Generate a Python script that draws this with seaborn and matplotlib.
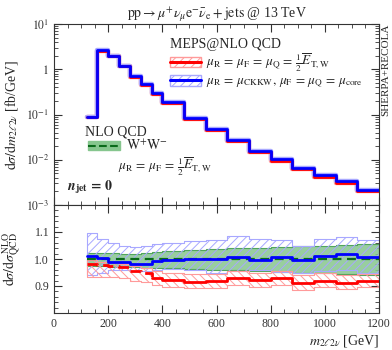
import numpy as np
import pandas as pd
import matplotlib
matplotlib.use("Agg")
import matplotlib.pyplot as plt
import seaborn as sns
from matplotlib.lines import Line2D
from matplotlib.patches import Patch
from matplotlib.ticker import MultipleLocator, FixedLocator, LogLocator, NullFormatter

# ---------------- data ----------------
bin_edges = [120, 160, 200, 240, 280, 320, 360, 400, 480, 560, 640, 720, 800, 880, 960, 1040, 1120, 1200]

# top panel: dsigma/dm [fb/GeV]
meps_blue = [0.088, 2.6, 2.0, 1.19, 0.71, 0.47, 0.30, 0.19, 0.085, 0.049, 0.028, 0.0160, 0.0103, 0.0067, 0.0046, 0.0034, 0.0022]
meps_red = [0.086, 2.55, 1.95, 1.16, 0.69, 0.455, 0.285, 0.176, 0.079, 0.045, 0.026, 0.0147, 0.0095, 0.0061, 0.0042, 0.0031, 0.0020]

# ratio panel (to NLO QCD)
ratio_blue = [1.012, 1.005, 0.990, 0.990, 0.981, 0.981, 0.993, 0.995, 1.000, 1.000, 1.006, 0.997, 1.007, 0.995, 1.012, 1.020, 1.008]
ratio_blue_hi = [1.095, 1.075, 1.060, 1.050, 1.045, 1.050, 1.055, 1.060, 1.065, 1.070, 1.085, 1.075, 1.070, 1.050, 1.075, 1.080, 1.070]
ratio_blue_lo = [0.940, 0.950, 0.958, 0.960, 0.955, 0.955, 0.960, 0.962, 0.960, 0.950, 0.955, 0.958, 0.952, 0.950, 0.955, 0.958, 0.950]
ratio_red = [0.981, 0.979, 0.975, 0.972, 0.954, 0.948, 0.930, 0.922, 0.916, 0.918, 0.929, 0.922, 0.929, 0.910, 0.920, 0.910, 0.919]
ratio_red_hi = [0.995, 0.990, 0.985, 0.982, 0.975, 0.968, 0.955, 0.948, 0.944, 0.946, 0.955, 0.950, 0.956, 0.940, 0.948, 0.940, 0.946]
ratio_red_lo = [0.935, 0.935, 0.932, 0.930, 0.920, 0.915, 0.905, 0.898, 0.894, 0.893, 0.903, 0.897, 0.905, 0.887, 0.895, 0.888, 0.895]
ratio_nlo = [1.0] * 17
ratio_nlo_hi = [1.022, 1.022, 1.022, 1.020, 1.020, 1.022, 1.025, 1.028, 1.032, 1.036, 1.040, 1.042, 1.045, 1.048, 1.050, 1.053, 1.055]
ratio_nlo_lo = [0.975, 0.975, 0.972, 0.970, 0.970, 0.968, 0.968, 0.965, 0.962, 0.960, 0.958, 0.955, 0.952, 0.950, 0.947, 0.945, 0.942]

x_ticks = [0, 200, 400, 600, 800, 1000, 1200]

# ---------------- style ----------------
sns.set_style("ticks")
plt.rcParams["font.family"] = ["Liberation Serif", "DejaVu Serif"]
plt.rcParams["mathtext.fontset"] = "stix"
plt.rcParams["hatch.linewidth"] = 0.7
plt.rcParams["axes.linewidth"] = 0.8

BLUE = "#0000ff"
RED = "#ff0000"
LBLUE = "#a8a8ff"
LRED = "#ff9a9a"
GREEN_FILL = "#86c68e"
GREEN_LINE = "#0a6a1a"

fig = plt.figure(figsize=(3.92, 3.5), dpi=100)
ax_top = fig.add_axes([54 / 392, 1 - 205 / 350, 325 / 392, 181 / 350])
ax_bot = fig.add_axes([54 / 392, 1 - 313 / 350, 325 / 392, 108 / 350], sharex=ax_top)


def step_df(vals):
    return pd.DataFrame({"x": bin_edges, "y": list(vals) + [vals[-1]]})


def step_line(ax, vals, color, lw=2.0, ls="-", edges=None):
    df = step_df(vals)
    if edges is not None:
        df = df.iloc[edges[0]:edges[1]]
    sns.lineplot(data=df, x="x", y="y", ax=ax, color=color, lw=lw, ls=ls,
                 drawstyle="steps-post", estimator=None, sort=False, legend=False)


def band(ax, lo, hi, face, edge, hatch=None, alpha=1.0):
    lo2 = list(lo) + [lo[-1]]
    hi2 = list(hi) + [hi[-1]]
    if hatch:
        ax.fill_between(bin_edges, lo2, hi2, step="post", facecolor="none",
                        edgecolor=edge, hatch=hatch, lw=0.8)
    else:
        ax.fill_between(bin_edges, lo2, hi2, step="post", facecolor=face,
                        edgecolor=edge, lw=0.8, alpha=alpha)


# ---------------- top panel ----------------
step_line(ax_top, meps_red, LRED, lw=3.2)
step_line(ax_top, meps_blue, LBLUE, lw=3.2)
step_line(ax_top, meps_red, RED, lw=2.0)
step_line(ax_top, meps_blue, BLUE, lw=2.0)
ax_top.set_yscale("log")
ax_top.set_ylim(1e-3, 10)
ax_top.set_xlim(0, 1200)
ax_top.set_xlabel("")
ax_top.set_ylabel(r"$\mathrm{d}\sigma/\mathrm{d}m_{2\ell 2\nu}$ [fb/GeV]", fontsize=10)
ax_top.yaxis.set_label_coords(-0.105, 0.5)
ax_top.set_yticks([1e-3, 1e-2, 1e-1, 1, 10])
ax_top.set_yticklabels([r"$10^{-3}$", r"$10^{-2}$", r"$10^{-1}$", r"$1$", r"$10^{1}$"])
ax_top.yaxis.set_minor_locator(LogLocator(base=10, subs=np.arange(2, 10)))
ax_top.yaxis.set_minor_formatter(NullFormatter())
ax_top.tick_params(axis="x", labelbottom=False)
ax_top.set_title(r"$\mathrm{pp} \rightarrow \mu^{+}\nu_{\mu}\mathrm{e}^{-}\bar{\nu}_{\mathrm{e}} + \mathrm{jets}$ @ 13 TeV",
                 fontsize=10, pad=4)

# legends
h_red = (Patch(facecolor="none", edgecolor=LRED, hatch="////"), Line2D([], [], color=RED, lw=2.2))
h_blue = (Patch(facecolor="none", edgecolor=LBLUE, hatch="////"), Line2D([], [], color=BLUE, lw=2.2))
leg1 = ax_top.legend([h_red, h_blue],
                     [r"$\mu_{\mathrm{R}}\,=\,\mu_{\mathrm{F}}\,=\,\mu_{\mathrm{Q}}\,=\,\frac{1}{2}\overline{E}_{\mathrm{T,W}}$",
                      r"$\mu_{\mathrm{R}}\,=\,\mu_{\mathrm{CKKW}},\,\mu_{\mathrm{F}}\,=\,\mu_{\mathrm{Q}}\,=\,\mu_{\mathrm{core}}$"],
                     title="MEPS@NLO QCD", alignment="left", loc="upper left",
                     bbox_to_anchor=(0.33, 0.975), frameon=False, fontsize=9.5, title_fontsize=10,
                     handlelength=2.3, handleheight=0.8, handletextpad=0.4, labelspacing=0.1,
                     borderpad=0.2)
ax_top.add_artist(leg1)
ax_top.text(0.095, 0.403, "NLO QCD", transform=ax_top.transAxes, fontsize=10, va="center", ha="left")
h_green = (Patch(facecolor=GREEN_FILL, edgecolor=GREEN_FILL), Line2D([], [], color=GREEN_LINE, lw=1.5, ls="--"))
leg2 = ax_top.legend([h_green], [r"$\mathrm{W}^{+}\mathrm{W}^{-}$"],
                     loc="center left", bbox_to_anchor=(0.075, 0.325), frameon=False, fontsize=10,
                     handlelength=2.3, handleheight=0.7, handletextpad=0.4, borderpad=0.2)
ax_top.text(0.197, 0.212, r"$\mu_{\mathrm{R}}\,=\,\mu_{\mathrm{F}}\,=\,\frac{1}{2}\overline{E}_{\mathrm{T,W}}$",
            transform=ax_top.transAxes, fontsize=9.5, va="center", ha="left")
ax_top.text(0.04, 0.10, r"$\mathbfit{n}_{\mathbf{jet}}\mathbf{\,=\,0}$", transform=ax_top.transAxes,
            fontsize=10, va="center", ha="left")
fig.text(386 / 392, 1 - 24 / 350, "SHERPA+RECOLA", rotation=90, fontsize=8, va="top", ha="center")

# ---------------- ratio panel ----------------
band(ax_bot, ratio_nlo_lo, ratio_nlo_hi, GREEN_FILL, "#3c9a48", alpha=0.85)
band(ax_bot, ratio_blue_lo, ratio_blue_hi, None, LBLUE, hatch="////")
band(ax_bot, ratio_red_lo, ratio_red_hi, None, LRED, hatch="\\\\\\\\")
step_line(ax_bot, ratio_nlo, GREEN_LINE, lw=1.6, ls=(0, (4, 2.5)))
step_line(ax_bot, ratio_blue, BLUE, lw=2.0)
step_line(ax_bot, ratio_red, RED, lw=2.0, ls=(0, (4, 2)), edges=(0, 7))
step_line(ax_bot, ratio_red, RED, lw=2.0, edges=(6, 18))
ax_bot.set_ylim(0.8, 1.2)
ax_bot.set_xlim(0, 1200)
ax_bot.yaxis.set_major_locator(FixedLocator([0.9, 1.0, 1.1]))
ax_bot.set_yticklabels(["0.9", "1.0", "1.1"])
ax_bot.yaxis.set_minor_locator(MultipleLocator(0.02))
ax_bot.xaxis.set_major_locator(FixedLocator(x_ticks))
ax_bot.set_xticklabels([str(v) for v in x_ticks])
ax_bot.xaxis.set_minor_locator(MultipleLocator(50))
ax_bot.set_ylabel(r"$\mathrm{d}\sigma/\mathrm{d}\sigma^{\mathrm{NLO}}_{\mathrm{QCD}}$", fontsize=10)
ax_bot.yaxis.set_label_coords(-0.095, 0.5)
ax_bot.set_xlabel(r"$m_{2\ell 2\nu}$ [GeV]", fontsize=10, loc="right", labelpad=2)

for ax in (ax_top, ax_bot):
    ax.tick_params(which="both", direction="in", top=True, right=True, labelsize=8.5, colors="#333333")
    ax.tick_params(which="major", length=6, width=0.8)
    ax.tick_params(which="minor", length=3, width=0.6)
    for s in ax.spines.values():
        s.set_color("#333333")

fig.savefig("out.png", dpi=100)
